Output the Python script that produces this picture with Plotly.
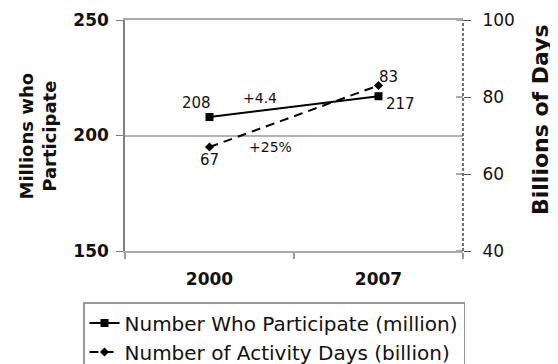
import plotly.graph_objects as go

# ---- data ----
years = ["2000", "2007"]
participants = [208, 217]          # millions (left axis)
activity_days = [67, 83]           # billions (right axis)
change_labels = ["+4.4", "+25%"]
series_names = ["Number Who Participate (million)", "Number of Activity Days (billion)"]
left_ticks = [150, 200, 250]
right_ticks = [40, 60, 80, 100]
left_title = "Millions who<br>Participate"
right_title = "Billions of Days"

FONT = "DejaVu Sans"
OFF = 8  # page body margin in the browser
W, H = 558 - OFF, 364 - OFF
ML, MR, MT, MB = 125 - OFF, 95, 20 - OFF, 113
PW, PH = W - ML - MR, H - MT - MB


def px_x(px):
    # px: pixel x in the reference picture
    return (px - OFF - ML) / PW


def px_y(py):
    return (H - MB - (py - OFF)) / PH


fig = go.Figure()
fig.add_trace(go.Scatter(
    x=years, y=participants, name=series_names[0], mode="lines+markers",
    line=dict(color="black", width=2),
    marker=dict(symbol="square", size=8, color="black"), yaxis="y"))
fig.add_trace(go.Scatter(
    x=years, y=activity_days, name=series_names[1], mode="lines+markers",
    line=dict(color="black", width=2, dash="9px,6px"),
    marker=dict(symbol="diamond", size=7, color="black"), yaxis="y2"))

annotations = []
# data labels (category index positions)
label_specs = [
    (0, participants[0], "y", -13, 14),
    (1, participants[1], "y", 22, -8),
    (0, activity_days[0], "y2", 0, -13),
    (1, activity_days[1], "y2", 10, 8),
]
for xi, val, yref, dx, dy in label_specs:
    annotations.append(dict(x=xi, y=val, xref="x", yref=yref, text=str(val),
                            xshift=dx, yshift=dy, showarrow=False,
                            font=dict(family=FONT, size=15, color="#111")))
# change labels
annotations.append(dict(x=px_x(260), y=px_y(98), xref="paper", yref="paper", text=change_labels[0],
                        showarrow=False, font=dict(family=FONT, size=14, color="#111")))
annotations.append(dict(x=px_x(270), y=px_y(147), xref="paper", yref="paper", text=change_labels[1],
                        showarrow=False, font=dict(family=FONT, size=14, color="#111")))
# axis titles
annotations.append(dict(x=px_x(37), y=px_y(136.5), xref="paper", yref="paper", text=left_title,
                        textangle=-90, showarrow=False, xanchor="center", yanchor="middle",
                        font=dict(family=FONT, size=18, color="#111", weight="bold")))
annotations.append(dict(x=px_x(540), y=px_y(120), xref="paper", yref="paper", text=right_title,
                        textangle=-90, showarrow=False, xanchor="center", yanchor="middle",
                        font=dict(family=FONT, size=22, color="#111", weight="bold")))

shapes = [dict(type="line", xref="paper", yref="paper", x0=1, x1=1, y0=0, y1=1,
               line=dict(color="#444", width=1.5, dash="3px,2px"))]
for v in right_ticks:
    shapes.append(dict(type="line", xref="paper", yref="y2", x0=1 - 7 / PW, x1=1, y0=v, y1=v,
                       line=dict(color="#555", width=1)))

fig.update_layout(
    width=W, height=H,
    margin=dict(l=ML, r=MR, t=MT, b=MB, autoexpand=False),
    plot_bgcolor="white", paper_bgcolor="white",
    font=dict(family=FONT, color="#111"),
    xaxis=dict(type="category", range=[-0.5, 1.5], tickson="boundaries", ticks="outside",
               ticklen=6, tickcolor="#999", tickwidth=1.5, showline=True, linecolor="#aaa",
               linewidth=2, mirror=True, showgrid=False, zeroline=False,
               tickfont=dict(family=FONT, size=17, weight="bold", color="#111"),
               ticklabelstandoff=12),
    yaxis=dict(range=[150, 250], tickvals=left_ticks, showgrid=True, gridcolor="#b3b3b3",
               gridwidth=2, showline=True, linecolor="#808080", linewidth=1.5, ticks="outside",
               ticklen=7, tickcolor="#808080", zeroline=False,
               tickfont=dict(family=FONT, size=17, weight="bold", color="#111"),
               ticklabelstandoff=4),
    yaxis2=dict(range=[40, 100], tickvals=right_ticks, overlaying="y", side="right",
                showgrid=False, showline=False, ticks="outside", ticklen=7, tickcolor="#555",
                zeroline=False, tickfont=dict(family=FONT, size=17, color="#111"),
                ticklabelstandoff=8),
    legend=dict(x=px_x(83), y=px_y(302), xanchor="left", yanchor="top",
                bordercolor="#999", borderwidth=1.5, bgcolor="white",
                font=dict(family=FONT, size=20, color="#111")),
    annotations=annotations,
    shapes=shapes,
    showlegend=True,
)

fig.write_html("out.html")
